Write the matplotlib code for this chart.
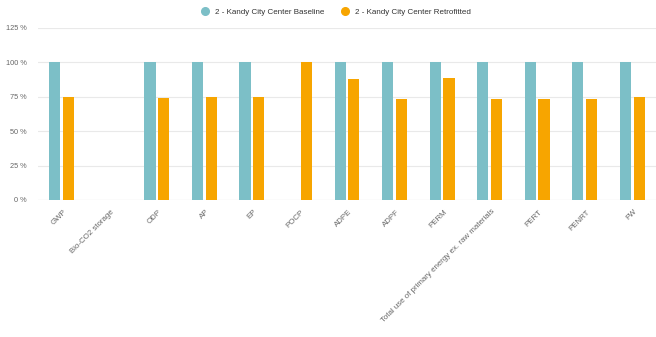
import matplotlib
matplotlib.use("Agg")
import matplotlib.pyplot as plt
import numpy as np
from matplotlib.lines import Line2D

categories = ["GWP", "Bio-CO2 storage", "ODP", "AP", "EP", "POCP", "ADPE", "ADPF",
              "PERM", "Total use of primary energy ex. raw materials", "PERT", "PENRT", "FW"]
baseline = [100, 0, 100, 100, 100, 0, 100, 100, 100, 100, 100, 100, 100]
retrofitted = [75, 0, 74, 74.5, 74.5, 100, 88, 73.5, 89, 73.5, 73.5, 73.5, 74.7]
series_names = ["2 - Kandy City Center Baseline", "2 - Kandy City Center Retrofitted"]
yticks = [0, 25, 50, 75, 100, 125]

plt.rcParams['font.family'] = ['Liberation Sans', 'DejaVu Sans']

fig = plt.figure(figsize=(6.56, 3.37), dpi=100)
W, H = 656, 337
ax = fig.add_axes([38 / W, 1 - 200 / H, (656 - 38) / W, (200 - 28) / H])

teal = "#7cbfc7"
orange = "#f7a500"
x = np.arange(len(categories))
bw = 0.235
off = 0.145
ax.bar(x - off, baseline, bw, color=teal, zorder=3)
ax.bar(x + off, retrofitted, bw, color=orange, zorder=3)

ax.set_xlim(-0.5, len(categories) - 0.5)
ax.set_ylim(0, 125)
ax.set_yticks(yticks)
ax.set_yticklabels([f"{v} %" for v in yticks], fontsize=5.3, color="#666666")
ax.yaxis.grid(True, color="#e9e9e9", linewidth=0.8, zorder=0)
for s in ax.spines.values():
    s.set_visible(False)
ax.axhline(0, color="#dcdcdc", linewidth=0.8, zorder=2)
ax.tick_params(axis='y', length=0, pad=8)
ax.tick_params(axis='x', length=0, pad=6)
ax.set_xticks(x + 0.03)
ax.set_xticklabels(categories, rotation=45, ha='right', rotation_mode='anchor',
                   fontsize=5.7, color="#666666")

handles = [Line2D([], [], marker='o', linestyle='', markersize=5.5, color=teal),
           Line2D([], [], marker='o', linestyle='', markersize=5.5, color=orange)]
fig.legend(handles, series_names, loc='center', bbox_to_anchor=(334 / W, 1 - 12 / H),
           ncol=2, frameon=False, fontsize=5.8, handletextpad=0.2, columnspacing=1.6,
           labelcolor="#333333")

fig.savefig("out.png", dpi=100, facecolor="white")
